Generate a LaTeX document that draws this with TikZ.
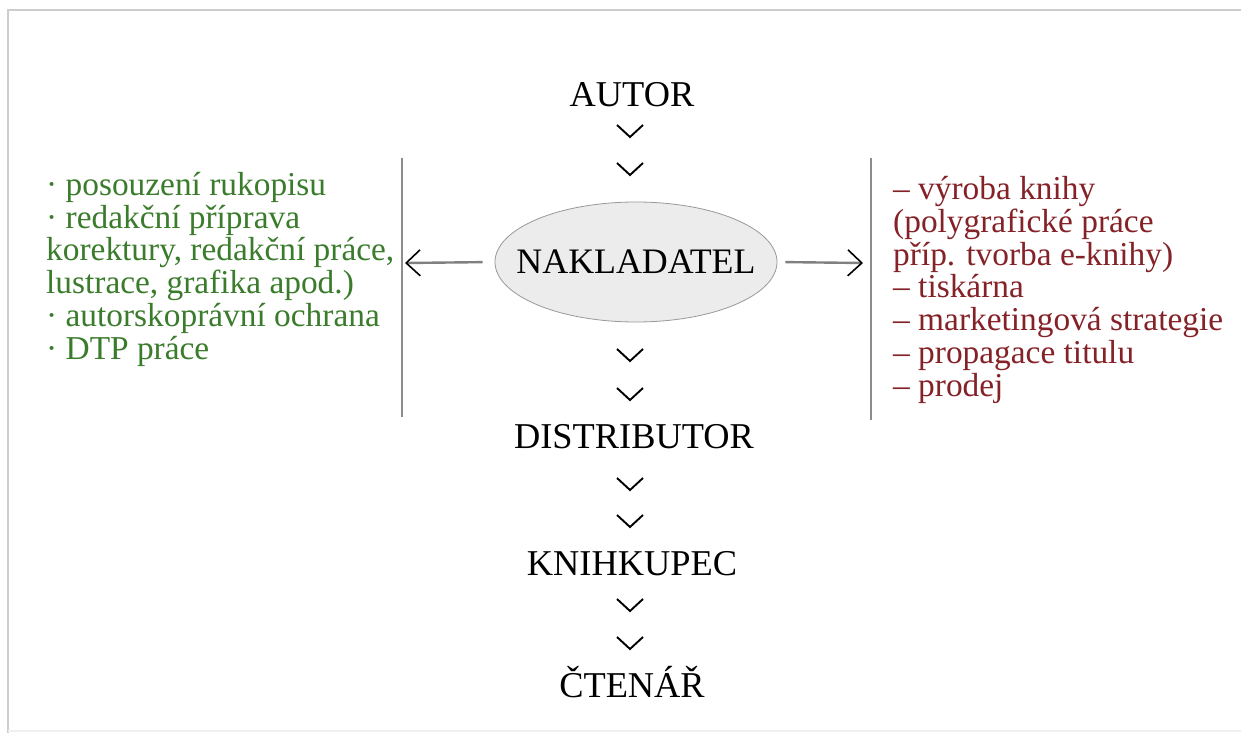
\documentclass[tikz,border=0pt]{standalone}
\usepackage{fontspec}
\setmainfont{Liberation Serif}
\usetikzlibrary{arrows.meta,positioning,shapes.geometric}
\definecolor{zelena}{RGB}{58,124,44}
\definecolor{cervena}{RGB}{132,34,40}
\definecolor{ramec}{RGB}{205,205,205}

\begin{document}
\begin{tikzpicture}[
  x=1bp, y=-1bp,
  stage/.style={font=\fontsize{36.5}{40}\selectfont, inner sep=0pt},
  hub/.style={
    ellipse, draw=gray!80, fill=gray!15, line width=0.8bp,
    minimum width=282bp, minimum height=120bp, inner sep=0pt,
    font=\fontsize{36}{40}\selectfont
  },
  tasks/.style={align=left, inner sep=0pt, font=\fontsize{33.5}{32.8}\selectfont},
  bar/.style={draw=black!45, line width=2.2bp},
  side/.style={
    draw=black!50, line width=2.4bp,
    -{Straight Barb[length=14bp,width=26bp,line width=1.6bp,color=black]}
  },
  chev/.pic={\draw[line width=1.9bp] (-13,-6) -- (0,6) -- (13,-6);}
]
\clip (0,0) rectangle (1241,733);
\fill[white] (0,0) rectangle (1241,733);

% ramecek
\draw[ramec, line width=2.5bp] (8,733) -- (8,10) -- (1241,10);
\draw[gray!12, line width=2bp] (8,731) -- (1241,731);

% Uzly
\node[stage, anchor=base] (autor) at (632,107) {AUTOR};
\node[hub] (nakladatel) at (636,262) {\makebox[0pt]{NAKLADATEL}};
\node[stage, anchor=base] (distributor) at (634,448) {DISTRIBUTOR};
\node[stage, anchor=base] (knihkupec) at (632,575) {KNIHKUPEC};
\node[stage, anchor=base] (ctenar) at (632,697) {ČTENÁŘ};

% sipky dolu
\foreach \y in {131,169,355,394,484,521,605,643}
  \pic at (630,\y) {chev};

% Cinnosti (kotva = uctari posledniho radku)
\node[tasks, anchor=base west, text=zelena] (redakce) at (46,359) {%
  · posouzení rukopisu\\
  · redakční příprava\\
  korektury, redakční práce,\\
  lustrace, grafika apod.)\\
  · autorskoprávní ochrana\\
  · DTP práce};
\node[tasks, anchor=base west, text=cervena] (vyroba) at (893,396) {%
  – výroba knihy\\
  (polygrafické práce\\
  příp. tvorba e-knihy)\\
  – tiskárna\\
  – marketingová strategie\\
  – propagace titulu\\
  – prodej};

% Svisle cary
\coordinate (levytop) at (402,158);
\coordinate (levybot) at (402,417);
\coordinate (pravytop) at (871,158);
\coordinate (pravybot) at (871,420);
\draw[bar] (levytop) -- (levybot);
\draw[bar] (pravytop) -- (pravybot);

% Vazby
\coordinate (levyhrot) at (405,263);
\coordinate (pravyhrot) at (863,263);
\draw[side, shorten <=12bp] (nakladatel.west) -- (levyhrot);
\draw[side, shorten <=8bp] (nakladatel.east) -- (pravyhrot);

\end{tikzpicture}
\end{document}
